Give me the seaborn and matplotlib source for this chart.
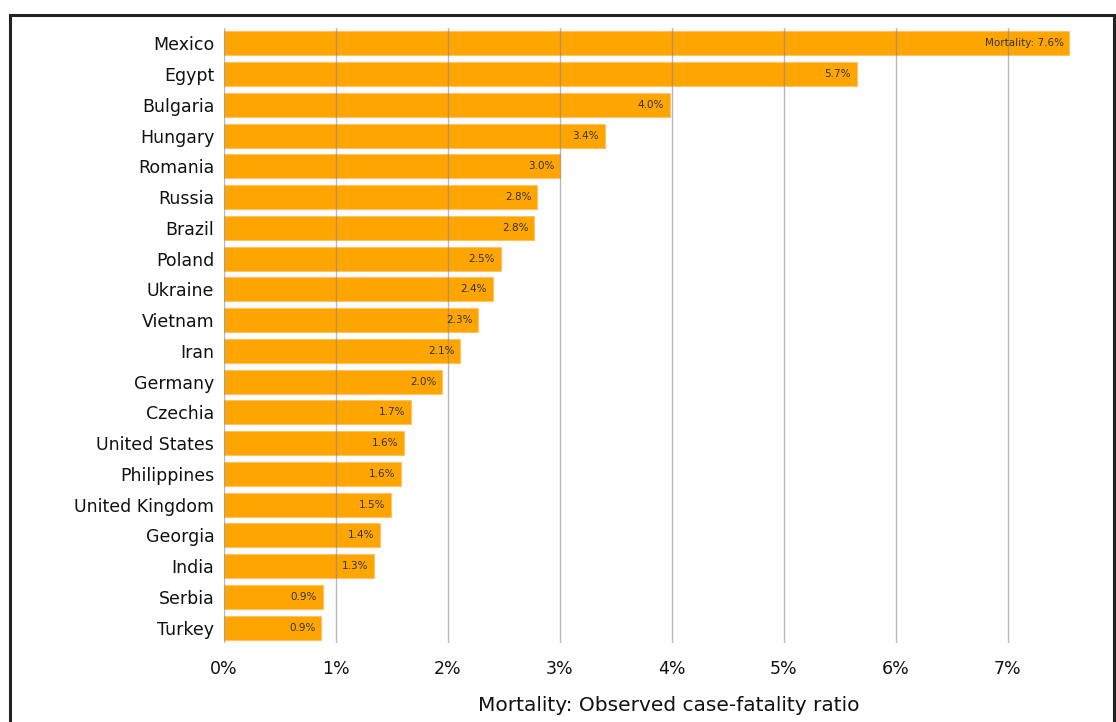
import pandas as pd
import matplotlib.pyplot as plt
import matplotlib.patches as patches
import seaborn as sns

countries = ["Mexico", "Egypt", "Bulgaria", "Hungary", "Romania", "Russia", "Brazil",
             "Poland", "Ukraine", "Vietnam", "Iran", "Germany", "Czechia", "United States",
             "Philippines", "United Kingdom", "Georgia", "India", "Serbia", "Turkey"]
mortality = [7.55, 5.65, 3.98, 3.40, 3.00, 2.80, 2.77, 2.47, 2.40, 2.27,
             2.11, 1.95, 1.67, 1.61, 1.58, 1.49, 1.39, 1.34, 0.88, 0.87]
labels = ["Mortality: 7.6%", "5.7%", "4.0%", "3.4%", "3.0%", "2.8%", "2.8%", "2.5%",
          "2.4%", "2.3%", "2.1%", "2.0%", "1.7%", "1.6%", "1.6%", "1.5%", "1.4%",
          "1.3%", "0.9%", "0.9%"]
ticks = [0, 1, 2, 3, 4, 5, 6, 7]

df = pd.DataFrame({"country": countries, "mortality": mortality})

sns.set_style("white")
plt.rcParams['font.family'] = ['DejaVu Sans']

fig = plt.figure(figsize=(11.16, 7.22), dpi=100)
ax = fig.add_axes([224 / 1116, 1 - 643 / 722, (1114 - 224) / 1116, (643 - 28) / 722])

sns.barplot(data=df, x="mortality", y="country", orient="h", color="#FFA500",
            saturation=1, width=0.78, edgecolor="#FFC266", linewidth=0.8, ax=ax)

for i, (v, lab) in enumerate(zip(mortality, labels)):
    ax.text(v - 0.05, i, lab, ha="right", va="center", fontsize=7.5, color="#333333")

ax.set_xlim(0, 7.95)
ax.set_ylim(19.5, -0.5)
ax.set_xticks(ticks)
ax.set_xticklabels([f"{t}%" for t in ticks])
ax.tick_params(axis="both", length=0, labelsize=12.5, colors="#111111")
ax.tick_params(axis="x", pad=12)
ax.tick_params(axis="y", pad=7)
ax.grid(axis="x", color="#888888", linewidth=1, alpha=0.6)
ax.set_axisbelow(False)
for s in ax.spines.values():
    s.set_visible(False)
ax.set_ylabel("")
ax.set_xlabel("Mortality: Observed case-fatality ratio", fontsize=14.5, labelpad=13, color="#111111")

# outer frame
fig.patches.append(patches.Rectangle((10 / 1116, -0.05), (1114 - 10) / 1116, 1.05 - 15 / 722,
                                     transform=fig.transFigure, fill=False,
                                     edgecolor="#222222", linewidth=2.2))

fig.savefig("out.png", dpi=100)
